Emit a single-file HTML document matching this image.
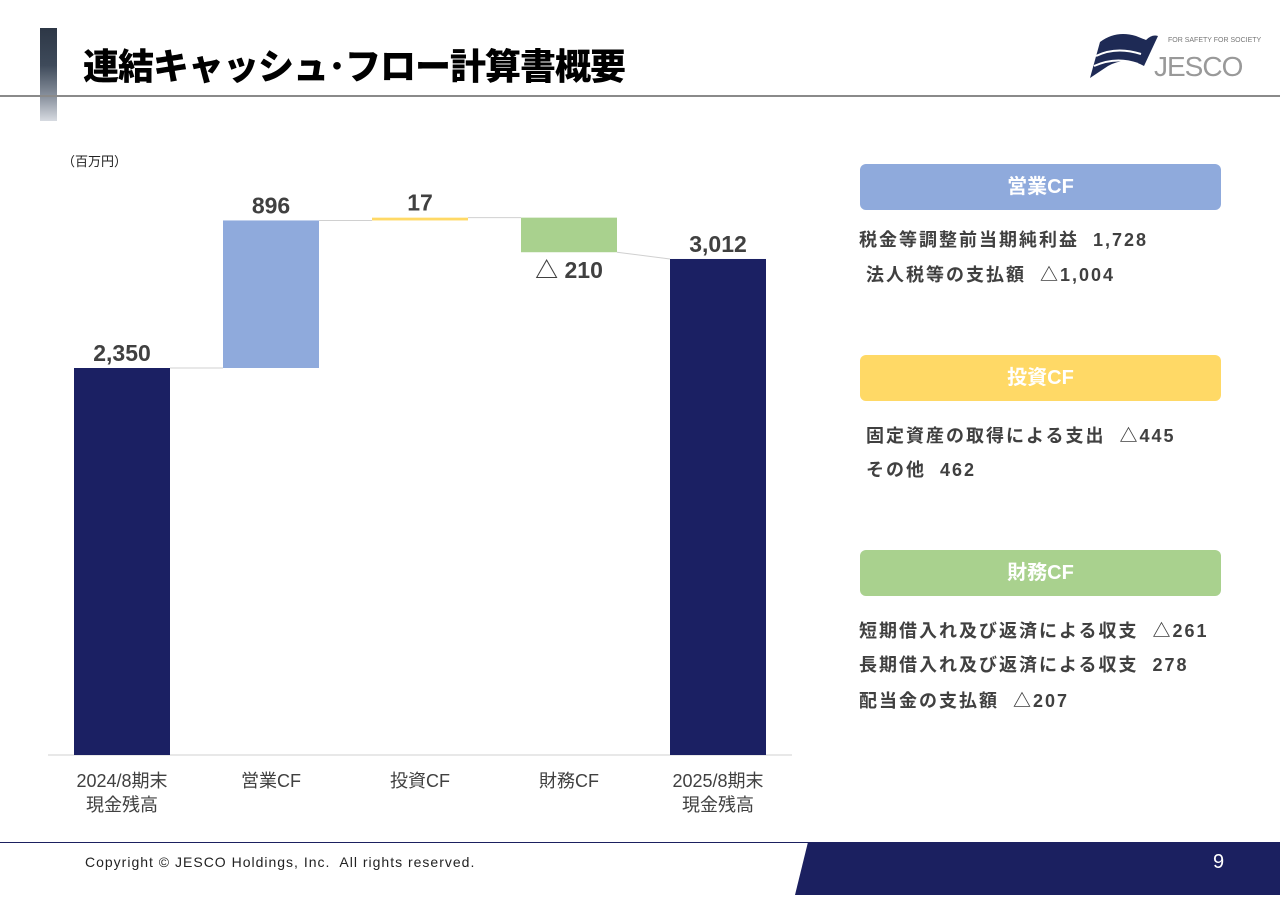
<!DOCTYPE html>
<html><head><meta charset="utf-8">
<style>
body{margin:0;width:1280px;height:904px;background:#fff;overflow:hidden;position:relative;font-family:"Liberation Sans","Noto Sans CJK JP",sans-serif;}
.abs{position:absolute;}
.box{position:absolute;left:860px;width:361px;height:46px;border-radius:6px;color:#fff;font-weight:bold;font-size:20px;text-align:center;line-height:46px;}
.item{position:absolute;font-size:18px;font-weight:bold;color:#404040;white-space:nowrap;letter-spacing:2px;}
</style></head><body>
<div class="abs" style="left:40px;top:28px;width:17px;height:93px;background:linear-gradient(#2d3746,#3e4a5a 40%,#8d95a1 75%,#d7dbe1);"></div>
<div class="abs" style="left:83px;top:38px;font-size:36px;font-weight:900;color:#000;letter-spacing:-1px;">連結キャッシュ･フロー計算書概要</div>
<div class="abs" style="left:0;top:95px;width:1280px;height:2px;background:#8a8a8a;"></div>
<svg class="abs" style="left:1086px;top:26px" width="180" height="56">
<path d="M4 52 L14 16 Q30 4 50 10 L60 14 Q66 8 72 10 L58 40 Q40 30 22 40 Z" fill="#1e2a55"/>
<path d="M10 30 Q30 20 55 28 M8 40 Q30 30 52 38" stroke="#fff" stroke-width="2" fill="none"/>
<text x="82" y="16" font-size="7" fill="#777" font-family="Liberation Sans">FOR SAFETY FOR SOCIETY</text>
<text x="68" y="50" font-size="28" fill="#999" font-family="Liberation Sans" letter-spacing="-1">JESCO</text>
</svg>
<div class="abs" style="left:62px;top:151px;font-size:13px;color:#222;">（百万円）</div>
<svg class="abs" id="chart" style="left:0;top:0" width="840" height="830"></svg>
<div class="box" style="top:164px;background:#8faadc;">営業CF</div>
<div class="item" style="left:859px;top:226px;">税金等調整前当期純利益&nbsp; 1,728</div>
<div class="item" style="left:866px;top:261px;">法人税等の支払額&nbsp; △1,004</div>
<div class="box" style="top:355px;background:#ffd966;">投資CF</div>
<div class="item" style="left:866px;top:422px;">固定資産の取得による支出&nbsp; △445</div>
<div class="item" style="left:866px;top:456px;">その他&nbsp; 462</div>
<div class="box" style="top:550px;background:#a9d18e;">財務CF</div>
<div class="item" style="left:859px;top:617px;">短期借入れ及び返済による収支&nbsp; △261</div>
<div class="item" style="left:859px;top:651px;">長期借入れ及び返済による収支&nbsp; 278</div>
<div class="item" style="left:859px;top:687px;">配当金の支払額&nbsp; △207</div>
<div class="abs" style="left:0;top:842px;width:1280px;height:1px;background:#1b2060;"></div>
<svg class="abs" style="left:0;top:842px" width="1280" height="54"><polygon points="808,0 1280,0 1280,53 795,53" fill="#1b2060"/></svg>
<div class="abs" style="left:85px;top:854px;font-size:14px;color:#222;letter-spacing:1px;">Copyright &#169; JESCO Holdings, Inc.&nbsp; All rights reserved.</div>
<div class="abs" style="left:1213px;top:851px;font-size:20px;color:#fff;">9</div>
<script>
const categories=["2024/8期末|現金残高","営業CF","投資CF","財務CF","2025/8期末|現金残高"];
const values=[2350,896,17,-210,3012];
const kinds=["total","delta","delta","delta","total"];
const labels=["2,350","896","17","△ 210","3,012"];
const colors=["#1b2063","#8faadc","#ffd966","#a9d18e","#1b2063"];
const svg=document.getElementById('chart');const NS="http://www.w3.org/2000/svg";
const base=755,scale=387/2350;
const y=v=>base-v*scale;
const x=i=>74+i*149;const bw=96;
function mk(t,a){const e=document.createElementNS(NS,t);for(const k in a)e.setAttribute(k,a[k]);svg.appendChild(e);return e;}
const ax=mk('line',{x1:48,x2:792,y1:base,y2:base,stroke:'#d0d0d0','stroke-width':1});


let run=0,prevEnd=null;
values.forEach((v,i)=>{
 let lo,hi,start,end;
 if(kinds[i]==='total'){start=0;end=v;lo=0;hi=v;run=v;}
 else{start=run;end=run+v;lo=Math.min(start,end);hi=Math.max(start,end);run=end;}
 if(prevEnd!==null){const cstart=kinds[i]==='total'?v:start;
  const c=mk('line',{x1:x(i-1)+bw,x2:x(i),y1:y(prevEnd),y2:y(cstart),stroke:'#d0d0d0','stroke-width':1});
  
  }
 prevEnd=kinds[i]==='total'?v:end;
 const h=Math.max(2,y(lo)-y(hi));
 const r=mk('rect',{x:x(i),y:y(hi),width:bw,height:h,fill:colors[i]});
 
 
 const neg=v<0;
 const t=mk('text',{x:x(i)+bw/2,y:neg?y(lo)+26:y(hi)-7,'text-anchor':'middle','font-size':23,'font-weight':'bold',fill:'#404040'});
 t.textContent=labels[i];
 
 
 categories[i].split('|').forEach((s,j)=>{
  const c=mk('text',{x:x(i)+bw/2,y:787+j*24,'text-anchor':'middle','font-size':18,fill:'#404040'});
  c.textContent=s;
  
  
 });
});
</script>
</body></html>
